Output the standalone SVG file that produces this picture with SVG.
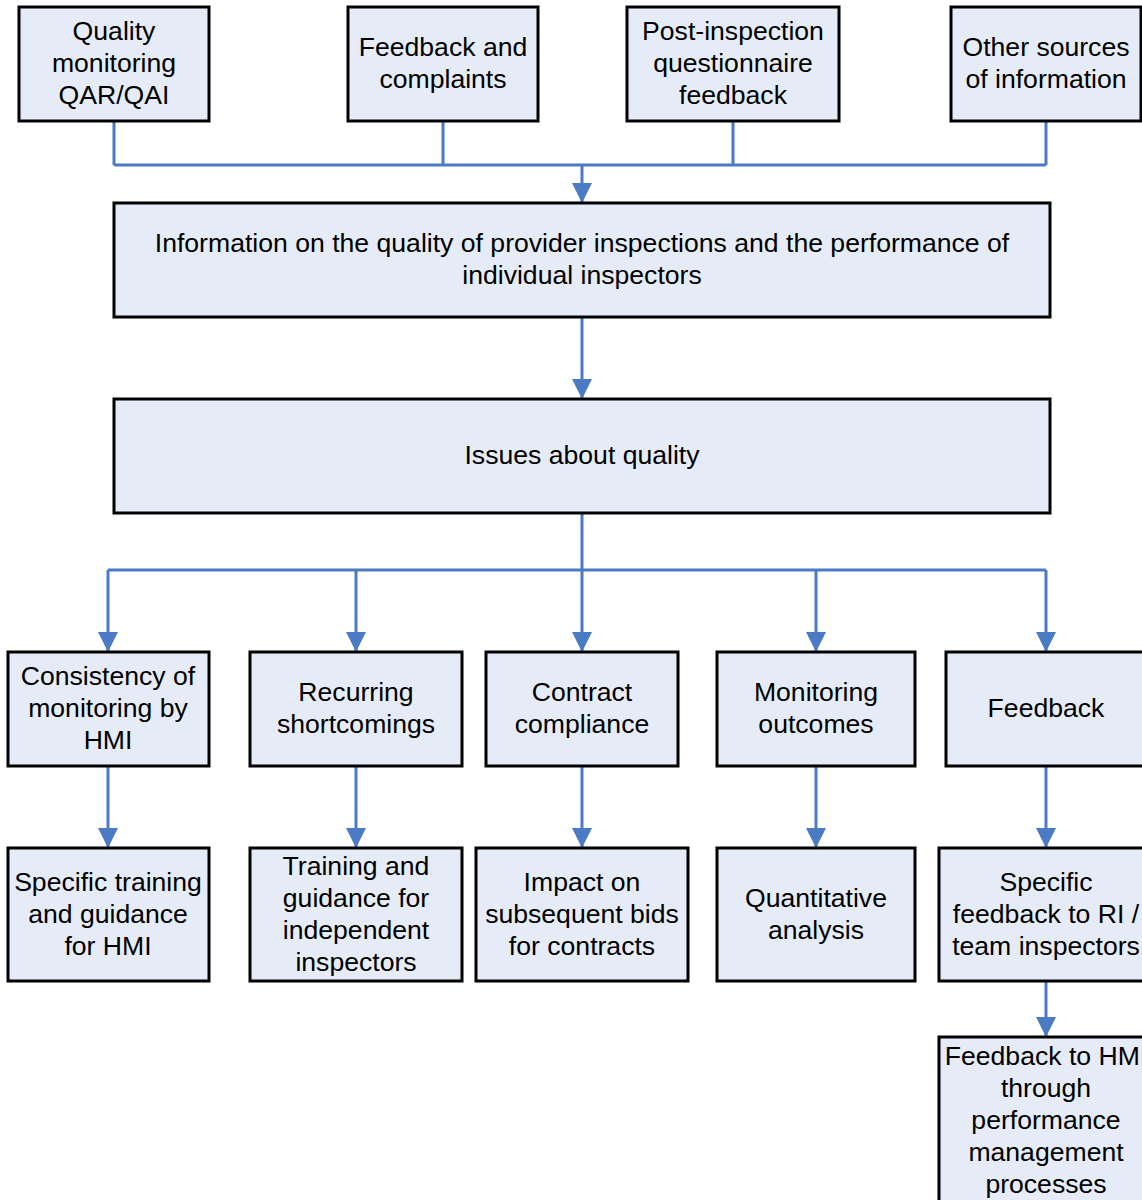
<svg xmlns="http://www.w3.org/2000/svg" width="1142" height="1200" viewBox="0 0 1142 1200">
<style>
.box{fill:#E6ECF7;stroke:#000;stroke-width:3}
.t{font-family:"Liberation Sans",Arial,sans-serif;font-size:26.6px;fill:#000;text-anchor:middle}
.c{fill:none;stroke:#4A7BC4;stroke-width:3}
</style>
<defs>
<marker id="a" markerUnits="userSpaceOnUse" markerWidth="20" markerHeight="20" refX="20" refY="10" orient="auto" viewBox="0 0 20 20">
<path d="M0,0 L20,10 L0,20 Z" fill="#4A7BC4"/>
</marker>
</defs>
<g id="connectors">
<path class="c" d="M114,121 V165 M443,121 V165 M733,121 V165 M1046,121 V165 M114,165 H1046"/>
<path class="c" d="M582,165 V203" marker-end="url(#a)"/>
<path class="c" d="M582,317 V399" marker-end="url(#a)"/>
<path class="c" d="M582,513 V570 M108,570 H1046"/>
<path class="c" d="M108,570 V652" marker-end="url(#a)"/>
<path class="c" d="M356,570 V652" marker-end="url(#a)"/>
<path class="c" d="M582,570 V652" marker-end="url(#a)"/>
<path class="c" d="M816,570 V652" marker-end="url(#a)"/>
<path class="c" d="M1046,570 V652" marker-end="url(#a)"/>
<path class="c" d="M108,766 V848" marker-end="url(#a)"/>
<path class="c" d="M356,766 V848" marker-end="url(#a)"/>
<path class="c" d="M582,766 V848" marker-end="url(#a)"/>
<path class="c" d="M816,766 V848" marker-end="url(#a)"/>
<path class="c" d="M1046,766 V848" marker-end="url(#a)"/>
<path class="c" d="M1046,981 V1037" marker-end="url(#a)"/>
</g>
<g id="n1"><rect class="box" x="19" y="7" width="190" height="114"/><text class="t" x="114"><tspan x="114" y="40">Quality</tspan><tspan x="114" y="72">monitoring</tspan><tspan x="114" y="104">QAR/QAI</tspan></text></g>
<g id="n2"><rect class="box" x="348" y="7" width="190" height="114"/><text class="t"><tspan x="443" y="56">Feedback and</tspan><tspan x="443" y="88">complaints</tspan></text></g>
<g id="n3"><rect class="box" x="627" y="7" width="212" height="114"/><text class="t"><tspan x="733" y="40">Post-inspection</tspan><tspan x="733" y="72">questionnaire</tspan><tspan x="733" y="104">feedback</tspan></text></g>
<g id="n4"><rect class="box" x="951" y="7" width="190" height="114"/><text class="t"><tspan x="1046" y="56">Other sources</tspan><tspan x="1046" y="88">of information</tspan></text></g>
<g id="n5"><rect class="box" x="114" y="203" width="936" height="114"/><text class="t"><tspan x="582" y="252">Information on the quality of provider inspections and the performance of</tspan><tspan x="582" y="284">individual inspectors</tspan></text></g>
<g id="n6"><rect class="box" x="114" y="399" width="936" height="114"/><text class="t"><tspan x="582" y="464">Issues about quality</tspan></text></g>
<g id="n7"><rect class="box" x="8" y="652" width="201" height="114"/><text class="t"><tspan x="108" y="685">Consistency of</tspan><tspan x="108" y="717">monitoring by</tspan><tspan x="108" y="749">HMI</tspan></text></g>
<g id="n8"><rect class="box" x="250" y="652" width="212" height="114"/><text class="t"><tspan x="356" y="701">Recurring</tspan><tspan x="356" y="733">shortcomings</tspan></text></g>
<g id="n9"><rect class="box" x="486" y="652" width="192" height="114"/><text class="t"><tspan x="582" y="701">Contract</tspan><tspan x="582" y="733">compliance</tspan></text></g>
<g id="n10"><rect class="box" x="717" y="652" width="198" height="114"/><text class="t"><tspan x="816" y="701">Monitoring</tspan><tspan x="816" y="733">outcomes</tspan></text></g>
<g id="n11"><rect class="box" x="946" y="652" width="200" height="114"/><text class="t"><tspan x="1046" y="717">Feedback</tspan></text></g>
<g id="n12"><rect class="box" x="8" y="848" width="201" height="133"/><text class="t"><tspan x="108" y="891">Specific training</tspan><tspan x="108" y="923">and guidance</tspan><tspan x="108" y="955">for HMI</tspan></text></g>
<g id="n13"><rect class="box" x="250" y="848" width="212" height="133"/><text class="t"><tspan x="356" y="875">Training and</tspan><tspan x="356" y="907">guidance for</tspan><tspan x="356" y="939">independent</tspan><tspan x="356" y="971">inspectors</tspan></text></g>
<g id="n14"><rect class="box" x="476" y="848" width="212" height="133"/><text class="t"><tspan x="582" y="891">Impact on</tspan><tspan x="582" y="923">subsequent bids</tspan><tspan x="582" y="955">for contracts</tspan></text></g>
<g id="n15"><rect class="box" x="717" y="848" width="198" height="133"/><text class="t"><tspan x="816" y="907">Quantitative</tspan><tspan x="816" y="939">analysis</tspan></text></g>
<g id="n16"><rect class="box" x="939" y="848" width="214" height="133"/><text class="t"><tspan x="1046" y="891">Specific</tspan><tspan x="1046" y="923">feedback to RI /</tspan><tspan x="1046" y="955">team inspectors</tspan></text></g>
<g id="n17"><rect class="box" x="939" y="1037" width="214" height="180"/><text class="t"><tspan x="1046" y="1065">Feedback to HMI</tspan><tspan x="1046" y="1097">through</tspan><tspan x="1046" y="1129">performance</tspan><tspan x="1046" y="1161">management</tspan><tspan x="1046" y="1193">processes</tspan></text></g>
</svg>
